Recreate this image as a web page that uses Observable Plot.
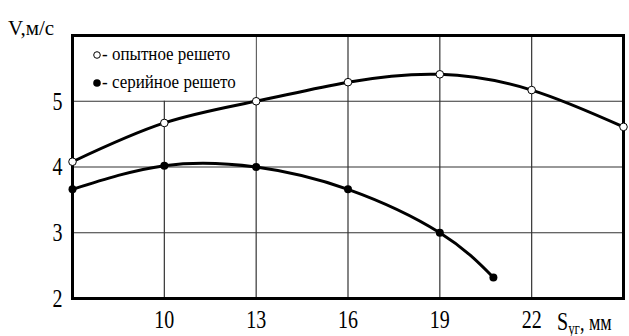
<!DOCTYPE html>
<html><head><meta charset="utf-8">
<script src="https://cdn.jsdelivr.net/npm/d3@7"></script>
<script src="https://cdn.jsdelivr.net/npm/@observablehq/plot@0.6"></script>
<style>
body{margin:0;background:#fff}
#chart{position:relative;width:629px;height:336px}
#chart svg{position:relative;z-index:1;font-family:"Liberation Serif","Times New Roman",serif}
#border{position:absolute;z-index:0;border:3px solid #000;box-sizing:border-box}
</style>
</head><body><div id="chart"><div id="border"></div></div>
<script>
// Data
const xExp = [7, 10, 13, 16, 19, 22, 25];
const vExp = [4.08, 4.67, 5.00, 5.29, 5.41, 5.17, 4.61];
const xSer = [7, 10, 13, 16, 19, 20.75];
const vSer = [3.66, 4.02, 4.00, 3.66, 3.00, 2.32];
const xTicks = [10, 13, 16, 19, 22];
const yTicks = [2, 3, 4, 5];
const xGrid = [10, 13, 16, 19, 22];
const yGrid = [3, 4, 5];
const legendLabels = ["- опытное решето", "- серийное решето"];
const yLabel = "V,м/с";
const xLabelMain = "S", xLabelSub = "уг", xLabelUnit = ", мм";
const xDomain = [7, 25], yDomain = [2, 6];
const legendBox = [{x1: 7, x2: 13, y1: 5, y2: 6}];

const exp = xExp.map((x, i) => ({x, v: vExp[i]}));
const ser = xSer.map((x, i) => ({x, v: vSer[i]}));

const plot = Plot.plot({
  width: 629, height: 336,
  marginLeft: 72, marginRight: 6, marginTop: 35, marginBottom: 38,
  style: {fontSize: "20px"},
  x: {domain: xDomain, ticks: xTicks, tickSize: 0, tickPadding: 11, tickFormat: d => String(d), label: null},
  y: {domain: yDomain, ticks: yTicks, tickSize: 0, tickPadding: 10, tickFormat: d => String(d), label: null},
  marks: [
    Plot.ruleX(xGrid, {stroke: "#333", strokeWidth: 1.2}),
    Plot.rect(legendBox, {x1: "x1", x2: "x2", y1: "y1", y2: "y2", fill: "white"}),
    Plot.ruleY(yGrid, {stroke: "#333", strokeWidth: 1.2}),
    Plot.frame({stroke: "#000", strokeWidth: 3}),
    Plot.line(exp, {x: "x", y: "v", curve: "natural", stroke: "#000", strokeWidth: 3}),
    Plot.line(ser, {x: "x", y: "v", curve: "natural", stroke: "#000", strokeWidth: 3}),
    Plot.dot(exp, {x: "x", y: "v", r: 3.8, fill: "white", stroke: "#000", strokeWidth: 1}),
    Plot.dot(ser, {x: "x", y: "v", r: 4, fill: "#000"})
  ]
});

const svg = d3.select(plot);
// stretch tick labels vertically like the reference's tall serif digits
svg.selectAll("g[aria-label='x-axis tick label'] text, g[aria-label='y-axis tick label'] text")
  .attr("transform", function() { return (this.getAttribute("transform") || "") + " scale(1,1.3)"; });

const sx = plot.scale("x"), sy = plot.scale("y");
const frameLeft = sx.apply(xDomain[0]), frameRight = sx.apply(xDomain[1]);
const frameTop = sy.apply(yDomain[1]), frameBottom = sy.apply(yDomain[0]);

// border behind the transparent svg, aligned to the scale extents
const b = document.getElementById("border");
b.style.left = (frameLeft - 1) + "px";
b.style.top = (frameTop - 1) + "px";
b.style.width = (frameRight - frameLeft + 3) + "px";
b.style.height = (frameBottom - frameTop + 3) + "px";

// y label
svg.append("text").attr("x", 8).attr("y", 35).attr("text-anchor", "start")
  .attr("font-size", 21).attr("fill", "#000").text(yLabel);

// x label
const xl = svg.append("text").attr("transform", `translate(557,330) scale(1,1.3)`)
  .attr("text-anchor", "start").attr("font-size", 20).attr("fill", "#000");
xl.append("tspan").text(xLabelMain);
xl.append("tspan").attr("font-size", 13).attr("dy", 3).text(xLabelSub);
xl.append("tspan").attr("font-size", 18).attr("dy", -3).text(xLabelUnit);

// legend
const lg = svg.append("g").attr("text-anchor", "start");
lg.append("circle").attr("cx", frameLeft + 25).attr("cy", frameTop + 20).attr("r", 3.3).attr("fill", "white").attr("stroke", "#000").attr("stroke-width", 1);
lg.append("circle").attr("cx", frameLeft + 25).attr("cy", frameTop + 48).attr("r", 3.8).attr("fill", "#000");
legendLabels.forEach((t, i) => {
  lg.append("text").attr("transform", `translate(${frameLeft + 30},${frameTop + 25 + i * 28}) scale(1,1.15)`)
    .attr("font-size", 17).attr("fill", "#000").text(t);
});

document.getElementById("chart").appendChild(plot);
</script>
</body></html>
